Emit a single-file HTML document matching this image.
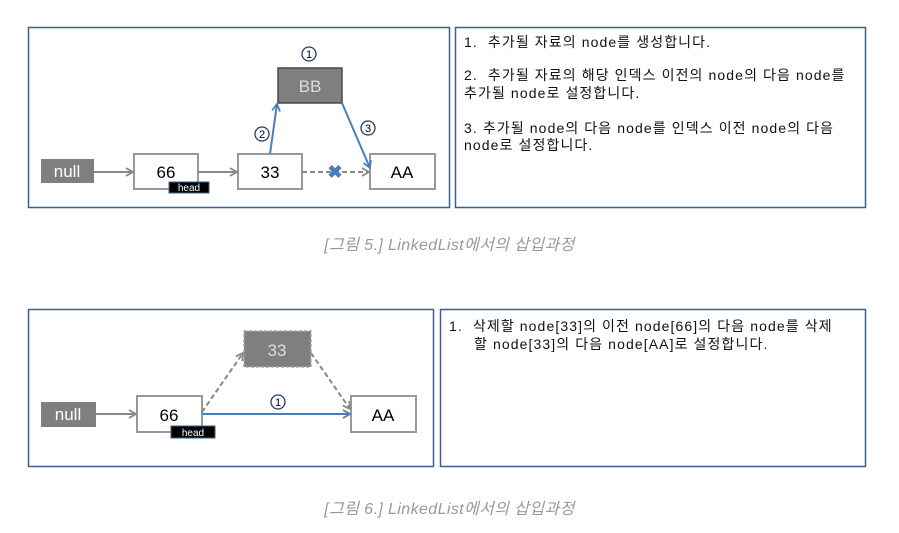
<!DOCTYPE html>
<html><head><meta charset="utf-8"><style>
body{margin:0;width:899px;height:533px;background:#fff;position:relative;overflow:hidden;font-family:"Liberation Sans","Noto Sans CJK KR",sans-serif}
.t{position:absolute;font-size:14px;letter-spacing:1.1px;color:#111;white-space:nowrap;line-height:17px}
.cap{position:absolute;left:0;width:899px;text-align:center;font-style:italic;color:#999;font-size:16px;letter-spacing:0.4px}
</style></head><body>
<svg width="899" height="533" style="position:absolute;left:0;top:0" font-family="Liberation Sans, Noto Sans CJK KR, sans-serif">
<defs>
<marker id="ag" markerWidth="10" markerHeight="10" refX="8" refY="5" orient="auto" markerUnits="userSpaceOnUse"><path d="M1,1 L8,5 L1,9" fill="none" stroke="#888" stroke-width="1.8"/></marker>
<marker id="ab" markerWidth="10" markerHeight="10" refX="8" refY="5" orient="auto" markerUnits="userSpaceOnUse"><path d="M1,1 L8,5 L1,9" fill="none" stroke="#4a7ebb" stroke-width="1.8"/></marker>
</defs>
<rect x="28.5" y="27.5" width="421" height="180" fill="none" stroke="#3b5f93" stroke-width="1.5"/>
<rect x="455.5" y="27.5" width="410" height="180" fill="none" stroke="#3b5f93" stroke-width="1.5"/>
<rect x="41" y="159" width="53" height="24" fill="#7f7f7f"/>
<text x="67" y="177" fill="#fff" font-size="17" text-anchor="middle">null</text>
<rect x="134" y="154" width="64" height="35" fill="#fff" stroke="#999" stroke-width="2"/>
<text x="166" y="178" font-size="17" text-anchor="middle">66</text>
<rect x="169" y="182" width="40" height="11" fill="#000" stroke="#3b5f93"/>
<text x="189" y="191" fill="#fff" font-size="10" text-anchor="middle">head</text>
<rect x="238" y="154" width="64" height="35" fill="#fff" stroke="#999" stroke-width="2"/>
<text x="270" y="178" font-size="17" text-anchor="middle">33</text>
<rect x="370" y="154" width="65" height="35" fill="#fff" stroke="#999" stroke-width="2"/>
<text x="402" y="178" font-size="17" text-anchor="middle">AA</text>
<rect x="278" y="68" width="64" height="35" fill="#7f7f7f" stroke="#4a4a3a" stroke-width="1.5"/>
<text x="310" y="92" fill="#ddd" font-size="17" text-anchor="middle">BB</text>
<line x1="94" y1="172" x2="133" y2="172" stroke="#888" stroke-width="2" marker-end="url(#ag)"/>
<line x1="198" y1="172" x2="237" y2="172" stroke="#888" stroke-width="2" marker-end="url(#ag)"/>
<line x1="302" y1="172" x2="369" y2="172" stroke="#888" stroke-width="2" stroke-dasharray="5,3" marker-end="url(#ag)"/>
<text x="335" y="178" fill="#4a7ebb" font-size="18" font-weight="bold" text-anchor="middle">✖</text>
<line x1="270" y1="154" x2="277" y2="104" stroke="#4a7ebb" stroke-width="2" marker-end="url(#ab)"/>
<line x1="342" y1="103" x2="370" y2="168" stroke="#4a7ebb" stroke-width="2" marker-end="url(#ab)"/>
<g fill="#fff" stroke="#1f3f6f" stroke-width="1.3">
<circle cx="309" cy="54" r="7"/><circle cx="262" cy="134" r="7"/><circle cx="368" cy="128" r="7"/>
</g>
<g font-size="11" text-anchor="middle" fill="#000"><text x="309" y="58">1</text><text x="262" y="138">2</text><text x="368" y="132">3</text></g>

<rect x="28.5" y="309.5" width="405" height="157" fill="none" stroke="#3b5f93" stroke-width="1.5"/>
<rect x="440.5" y="309.5" width="425" height="157" fill="none" stroke="#3b5f93" stroke-width="1.5"/>
<rect x="41" y="402" width="55" height="25" fill="#7f7f7f"/>
<text x="68" y="420" fill="#fff" font-size="17" text-anchor="middle">null</text>
<rect x="137" y="396" width="65" height="36" fill="#fff" stroke="#999" stroke-width="2"/>
<text x="169" y="421" font-size="17" text-anchor="middle">66</text>
<rect x="171" y="426" width="44" height="12" fill="#000" stroke="#3b5f93"/>
<text x="193" y="436" fill="#fff" font-size="10" text-anchor="middle">head</text>
<rect x="351" y="396" width="65" height="36" fill="#fff" stroke="#999" stroke-width="2"/>
<text x="383" y="421" font-size="17" text-anchor="middle">AA</text>
<rect x="244" y="331" width="67" height="36" fill="#7f7f7f" stroke="#aaa" stroke-width="1.5" stroke-dasharray="3,2"/>
<text x="277" y="356" fill="#ddd" font-size="17" text-anchor="middle">33</text>
<line x1="96" y1="414" x2="136" y2="414" stroke="#888" stroke-width="2" marker-end="url(#ag)"/>
<line x1="202" y1="412" x2="243" y2="353" stroke="#888" stroke-width="2" stroke-dasharray="5,3" marker-end="url(#ag)"/>
<line x1="311" y1="353" x2="350" y2="409" stroke="#888" stroke-width="2" stroke-dasharray="5,3" marker-end="url(#ag)"/>
<line x1="202" y1="414" x2="350" y2="414" stroke="#4a7ebb" stroke-width="2" marker-end="url(#ab)"/>
<circle cx="278" cy="402" r="7" fill="#fff" stroke="#1f3f6f" stroke-width="1.3"/>
<text x="278" y="406" font-size="11" text-anchor="middle">1</text>
</svg>
<div class="t" style="left:464px;top:34px">1.&nbsp; 추가될 자료의 node를 생성합니다.</div>
<div class="t" style="left:464px;top:67px">2.&nbsp; 추가될 자료의 해당 인덱스 이전의 node의 다음 node를</div>
<div class="t" style="left:464px;top:85px">추가될 node로 설정합니다.</div>
<div class="t" style="left:464px;top:120px">3. 추가될 node의 다음 node를 인덱스 이전 node의 다음</div>
<div class="t" style="left:464px;top:137px">node로 설정합니다.</div>
<div class="t" style="left:449px;top:318px">1.&nbsp; 삭제할 node[33]의 이전 node[66]의 다음 node를 삭제</div>
<div class="t" style="left:474px;top:336px">할 node[33]의 다음 node[AA]로 설정합니다.</div>
<div class="cap" style="top:231px">[그림 5.] LinkedList에서의 삽입과정</div>
<div class="cap" style="top:495px">[그림 6.] LinkedList에서의 삽입과정</div>
</body></html>
